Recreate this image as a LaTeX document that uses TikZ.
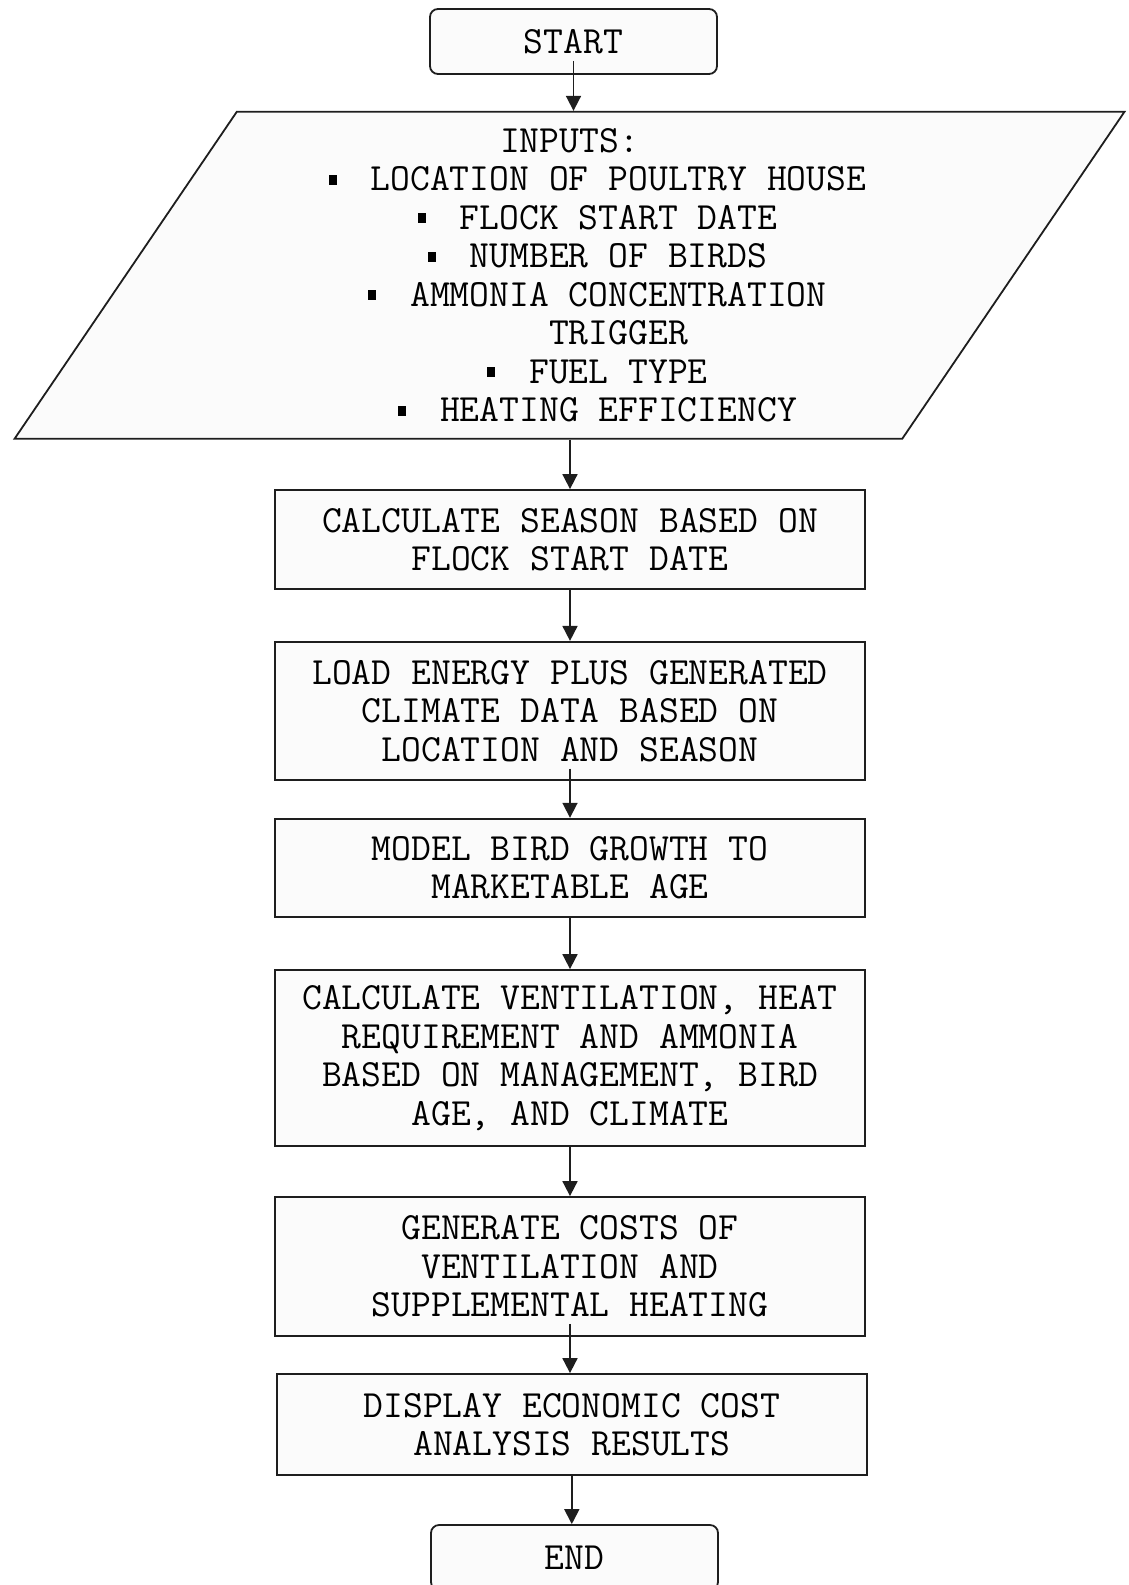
\documentclass[tikz,border=0pt]{standalone}
\usepackage{tikz}
\usetikzlibrary{shapes.geometric, arrows.meta, positioning}

\definecolor{boxfill}{RGB}{251,251,251}
\definecolor{edge}{RGB}{30,30,30}
\newcommand{\sqbul}{\rule[6pt]{8pt}{10pt}\hspace{34pt}}

\begin{document}
\begin{tikzpicture}[x=1pt, y=-1pt,
        every node/.style={font=\ttfamily\fontsize{38.5}{38.5}\selectfont, align=center, text=black},
        terminal/.style={draw=edge, fill=boxfill, line width=1.8pt, rounded corners=8pt,
            minimum width=287pt, minimum height=65pt, inner sep=0pt},
        process/.style={draw=edge, fill=boxfill, line width=1.8pt,
            minimum width=590pt, inner sep=0pt},
        io/.style={trapezium, trapezium left angle=56, trapezium right angle=124,
            trapezium stretches=true, draw=edge, fill=boxfill, line width=1.8pt,
            minimum width=1113pt, minimum height=327pt, inner sep=0pt},
        flow/.style={-{Triangle[length=15pt,width=15pt]}, line width=1.8pt, draw=edge}
    ]
    \useasboundingbox (0,0) rectangle (1128,1585);

    % terminals and input
    \node[terminal] (start) at (573.5,41.5) {START};
    \node[io] (inputs) at (569.5,275.3)
        {INPUTS:\\
         \hspace*{56pt}\sqbul LOCATION OF POULTRY HOUSE\\
         \hspace*{56pt}\sqbul FLOCK START DATE\\
         \hspace*{56pt}\sqbul NUMBER OF BIRDS\\
         \hspace*{56pt}\sqbul AMMONIA CONCENTRATION\\
         \hspace*{98pt}TRIGGER\\
         \hspace*{56pt}\sqbul FUEL TYPE\\
         \hspace*{56pt}\sqbul HEATING EFFICIENCY};

    % process steps
    \node[process, minimum height=99pt] (season) at (570,539.5)
        {CALCULATE SEASON BASED ON\\ FLOCK START DATE};
    \node[process, minimum height=138pt] (climate) at (570,710.8)
        {LOAD ENERGY PLUS GENERATED\\ CLIMATE DATA BASED ON\\ LOCATION AND SEASON};
    \node[process, minimum height=98pt] (growth) at (570,867.7)
        {MODEL BIRD GROWTH TO\\ MARKETABLE AGE};
    \node[process, minimum height=176pt] (vent) at (570,1058)
        {CALCULATE VENTILATION, HEAT\\ REQUIREMENT AND AMMONIA\\ BASED ON MANAGEMENT, BIRD\\ AGE, AND CLIMATE};
    \node[process, minimum height=139pt] (costs) at (570,1266.5)
        {GENERATE COSTS OF\\ VENTILATION AND\\ SUPPLEMENTAL HEATING};
    \node[process, minimum height=101pt] (display) at (571.8,1424.5)
        {DISPLAY ECONOMIC COST\\ ANALYSIS RESULTS};
    \node[terminal] (end) at (574.5,1557.5) {END};

    % connectors
    \draw[flow] ([yshift=14pt]start.south) -- (start.south |- inputs.north);
    \draw[flow] (inputs.south -| season.north) -- (season.north);
    \draw[flow] (season.south) -- (climate.north);
    \draw[flow] ([yshift=12pt]climate.south) -- (climate.south |- growth.north);
    \draw[flow] (growth.south) -- (vent.north);
    \draw[flow] (vent.south) -- (costs.north);
    \draw[flow] ([yshift=13pt]costs.south) -- (costs.south |- display.north);
    \draw[flow] (display.south) -- (display.south |- end.north);
\end{tikzpicture}
\end{document}
